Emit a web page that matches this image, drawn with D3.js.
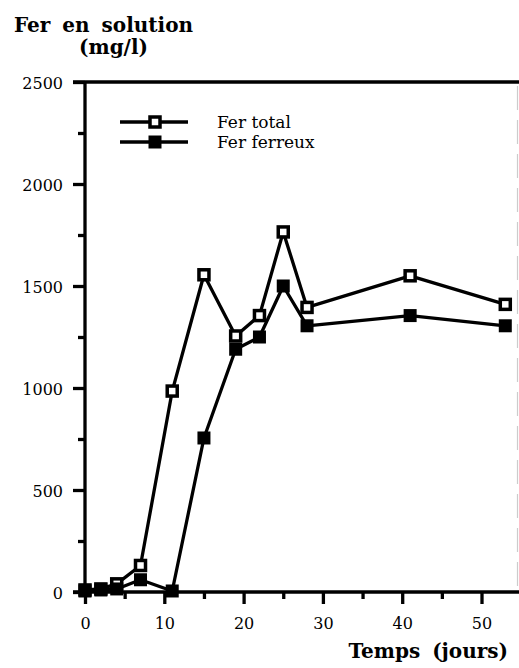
<!DOCTYPE html>
<html>
<head>
<meta charset="utf-8">
<script src="https://cdn.jsdelivr.net/npm/d3@7"></script>
<style>
  html, body { margin: 0; padding: 0; background: #fff; }
  svg { display: block; }
  text { fill: #000; }
</style>
</head>
<body>
<svg id="chart" width="519" height="668"></svg>
<script>
// Dissolved iron over time (mg/l)
const days      = [0, 2, 4, 7, 11, 15, 19, 22, 25, 28, 41, 53];
const ferTotal  = [10, 15, 40, 130, 985, 1555, 1255, 1355, 1765, 1395, 1550, 1410];
const ferFerreux = [5, 10, 15, 60, 5, 755, 1190, 1250, 1500, 1305, 1355, 1305];

const xTicks = [0, 10, 20, 30, 40, 50];
const xMinorTicks = [5, 15, 25, 35, 45];
const yTicks = [0, 500, 1000, 1500, 2000, 2500];
const yMinorTicks = [250, 750, 1250, 1750, 2250];

const seriesNames = ["Fer total", "Fer ferreux"];
const yTitle = ["Fer en solution", "(mg/l)"];
const xTitle = "Temps (jours)";

const W = 519, H = 668;
const svg = d3.select("#chart");

const x = d3.scaleLinear().domain([0, 50]).range([85, 481.5]);
const y = d3.scaleLinear().domain([0, 2500]).range([592, 82]);

const serif = "'DejaVu Serif', serif";
const majorLen = 12, minorLen = 7;
const lw = 3.3;

// frame: top line, bottom axis line, left axis line, faint right edge
const frame = svg.append("g").attr("stroke", "#000").attr("stroke-width", lw);
frame.append("line")
  .attr("x1", x(0) - majorLen).attr("x2", W)
  .attr("y1", y(2500)).attr("y2", y(2500));
frame.append("line")
  .attr("x1", x(0) - majorLen).attr("x2", W)
  .attr("y1", y(0)).attr("y2", y(0));
frame.append("line")
  .attr("x1", x(0)).attr("x2", x(0))
  .attr("y1", y(2500)).attr("y2", y(0));
svg.append("line")
  .attr("x1", W - 1.5).attr("x2", W - 1.5)
  .attr("y1", y(2500) + 4).attr("y2", y(0) - 4)
  .attr("stroke", "#ccc").attr("stroke-width", 1.2)
  .attr("stroke-dasharray", "24,10");

// y axis
const yAxis = svg.append("g")
  .attr("transform", `translate(${x(0)},0)`)
  .call(d3.axisLeft(y).tickValues(yTicks).tickSize(majorLen).tickPadding(10).tickFormat(d3.format("d")));
yAxis.select(".domain").remove();
yAxis.selectAll(".tick line").attr("stroke-width", lw);
yAxis.selectAll(".tick text").attr("font-family", serif).attr("font-size", 16).attr("dy", "0.38em");

const yMinor = svg.append("g")
  .attr("transform", `translate(${x(0)},0)`)
  .call(d3.axisLeft(y).tickValues(yMinorTicks).tickSize(minorLen).tickFormat(""));
yMinor.select(".domain").remove();
yMinor.selectAll(".tick line").attr("stroke-width", lw);

// x axis
const xAxis = svg.append("g")
  .attr("transform", `translate(0,${y(0)})`)
  .call(d3.axisBottom(x).tickValues(xTicks).tickSize(majorLen).tickPadding(14));
xAxis.select(".domain").remove();
xAxis.selectAll(".tick line").attr("stroke-width", lw);
xAxis.selectAll(".tick text").attr("font-family", serif).attr("font-size", 16);

const xMinor = svg.append("g")
  .attr("transform", `translate(0,${y(0)})`)
  .call(d3.axisBottom(x).tickValues(xMinorTicks).tickSize(minorLen).tickFormat(""));
xMinor.select(".domain").remove();
xMinor.selectAll(".tick line").attr("stroke-width", lw);

// axis titles
const t = svg.append("text")
  .attr("font-family", serif).attr("font-weight", "bold").attr("font-size", 20)
  .attr("word-spacing", 5);
t.append("tspan").attr("x", 14).attr("y", 32).text(yTitle[0]);
t.append("tspan").attr("x", 79).attr("y", 54).text(yTitle[1]);

svg.append("text")
  .attr("x", 508).attr("y", 658)
  .attr("text-anchor", "end")
  .attr("font-family", serif).attr("font-weight", "bold").attr("font-size", 20)
  .attr("word-spacing", 5)
  .text(xTitle);

// series
const line = d3.line().x((d, i) => x(days[i])).y(d => y(d));
const openSide = 10, filledSide = 13;

function drawSeries(values, filled) {
  const g = svg.append("g");
  g.append("path")
    .datum(values)
    .attr("d", line)
    .attr("fill", "none")
    .attr("stroke", "#000")
    .attr("stroke-width", lw)
    .attr("stroke-linejoin", "round");
  const s = filled ? filledSide : openSide;
  g.selectAll("rect")
    .data(values)
    .join("rect")
    .attr("x", (d, i) => x(days[i]) - s / 2)
    .attr("y", d => y(d) - s / 2)
    .attr("width", s).attr("height", s)
    .attr("fill", filled ? "#000" : "#fff")
    .attr("stroke", filled ? "none" : "#000")
    .attr("stroke-width", filled ? 0 : 3.5);
}
drawSeries(ferTotal, false);
drawSeries(ferFerreux, true);

// legend
const legend = svg.append("g");
seriesNames.forEach((name, i) => {
  const ly = 122 + i * 20;
  legend.append("line")
    .attr("x1", 120).attr("x2", 188)
    .attr("y1", ly).attr("y2", ly)
    .attr("stroke", "#000").attr("stroke-width", lw);
  const s = i === 0 ? openSide : filledSide;
  legend.append("rect")
    .attr("x", 155 - s / 2).attr("y", ly - s / 2)
    .attr("width", s).attr("height", s)
    .attr("fill", i === 0 ? "#fff" : "#000")
    .attr("stroke", i === 0 ? "#000" : "none")
    .attr("stroke-width", i === 0 ? 3.5 : 0);
  legend.append("text")
    .attr("x", 217).attr("y", ly + 6)
    .attr("font-family", serif).attr("font-size", 17)
    .text(name);
});
</script>
</body>
</html>
